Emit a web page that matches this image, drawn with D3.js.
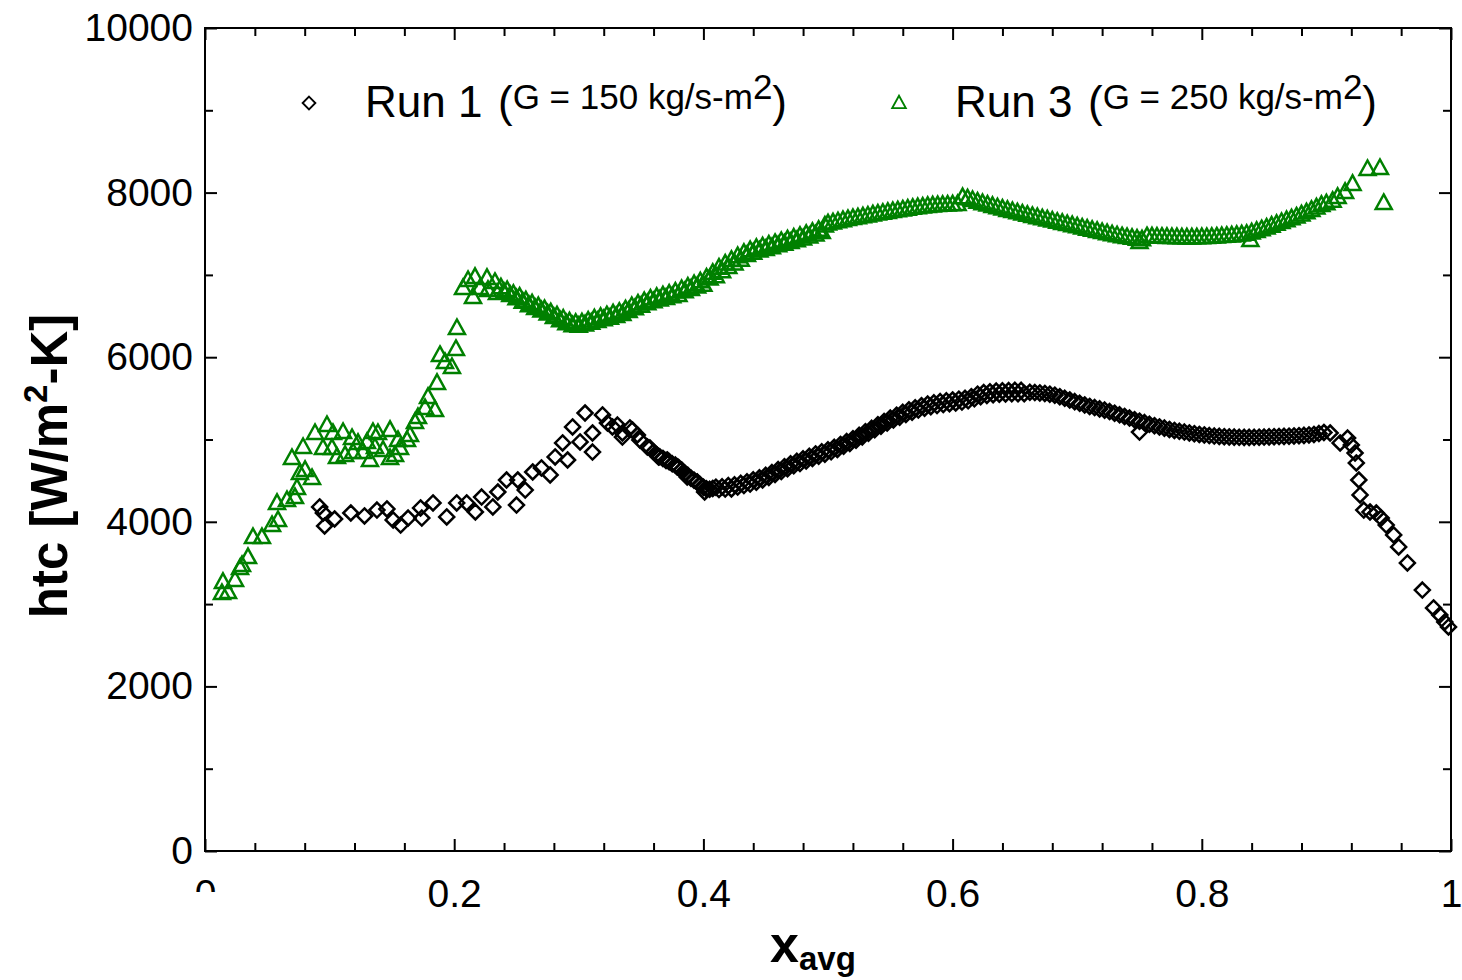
<!DOCTYPE html>
<html>
<head>
<meta charset="utf-8">
<script src="https://cdn.jsdelivr.net/npm/d3@7"></script>
<style>
	body { margin: 0; background: #fff; }
	svg { display: block; }
	text { font-family: "Liberation Sans", Arial, sans-serif; fill: #000; }
</style>
</head>
<body>
<div id="chart"></div>
<script>

// ---- axis ticks
const xMajorTicks = [0, 0.2, 0.4, 0.6, 0.8, 1];
const xMinorTicks = [0.04, 0.08, 0.12, 0.16, 0.24, 0.28, 0.32, 0.36, 0.44, 0.48, 0.52, 0.56,
	0.64, 0.68, 0.72, 0.76, 0.84, 0.88, 0.92, 0.96];
const yMajorTicks = [0, 2000, 4000, 6000, 8000, 10000];
const yMinorTicks = [1000, 3000, 5000, 7000, 9000];

// ---- Run 1 (G = 150 kg/s-m2), black diamonds
const run1SparseX = [
	0.092,0.095,0.096,0.104,0.117,0.128,0.138,0.146,0.151,0.157,
	0.163,0.173,0.174,0.183,0.194,0.202,0.210,0.217,0.222,0.231,
	0.235,0.242,0.250,0.251,0.257,0.263,0.270,0.277,0.281,0.287,
	0.291,0.295,0.301,0.305,0.311,0.311,0.319,0.323,0.327,0.331,
	0.335,0.335,0.341,0.343,0.347,0.349,0.355,0.357,0.364,0.371,
	0.379,0.387,0.395,0.401];
const run1SparseY = [
	4180,4107,3949,4034,4107,4071,4143,4156,4022,3961,
	4046,4168,4046,4229,4059,4229,4229,4119,4301,4180,
	4362,4508,4204,4508,4386,4605,4654,4569,4788,4958,
	4751,5152,4970,5322,4848,5079,5298,5201,5152,5176,
	5030,5079,5140,5116,5055,4994,4909,4897,4788,4751,
	4666,4545,4484,4362];

const run1BandX = [
	0.3600,0.3625,0.3650,0.3675,0.3700,0.3725,0.3750,0.3775,0.3800,0.3825,
	0.3850,0.3875,0.3900,0.3925,0.3950,0.3975,0.4000,0.4025,0.4050,0.4075,
	0.4100,0.4125,0.4150,0.4175,0.4200,0.4225,0.4250,0.4275,0.4300,0.4325,
	0.4350,0.4375,0.4400,0.4425,0.4450,0.4475,0.4500,0.4525,0.4550,0.4575,
	0.4600,0.4625,0.4650,0.4675,0.4700,0.4725,0.4750,0.4775,0.4800,0.4825,
	0.4850,0.4875,0.4900,0.4925,0.4950,0.4975,0.5000,0.5025,0.5050,0.5075,
	0.5100,0.5125,0.5150,0.5175,0.5200,0.5225,0.5250,0.5275,0.5300,0.5325,
	0.5350,0.5375,0.5400,0.5425,0.5450,0.5475,0.5500,0.5525,0.5550,0.5575,
	0.5600,0.5625,0.5650,0.5675,0.5700,0.5725,0.5750,0.5775,0.5800,0.5825,
	0.5850,0.5875,0.5900,0.5925,0.5950,0.5975,0.6000,0.6025,0.6050,0.6075,
	0.6100,0.6125,0.6150,0.6175,0.6200,0.6225,0.6250,0.6275,0.6300,0.6325,
	0.6350,0.6375,0.6400,0.6425,0.6450,0.6475,0.6500,0.6525,0.6550,0.6575,
	0.662,0.666,0.670,0.674,0.678,0.682,0.686,0.690,0.694,0.698,
	0.702,0.706,0.710,0.714,0.718,0.722,0.726,0.730,0.734,0.738,
	0.742,0.746,0.750,0.754,0.758,0.762,0.766,0.770,0.774,0.778,
	0.782,0.786,0.790,0.794,0.798,0.802,0.806,0.810,0.814,0.818,
	0.822,0.826,0.830,0.834,0.838,0.842,0.846,0.850,0.854,0.858,
	0.862,0.866,0.870,0.874,0.878,0.882,0.886,0.890,0.894,0.898];
const run1BandY = [
	4850,4815,4790,4770,4745,4730,4705,4690,4660,4630,
	4590,4565,4530,4505,4480,4450,4420,4400,4395,4405,
	4420,4392,4425,4398,4440,4400,4450,4422,4468,4440,
	4485,4458,4510,4482,4535,4508,4565,4540,4598,4575,
	4635,4610,4670,4645,4705,4680,4735,4708,4765,4740,
	4795,4770,4825,4798,4850,4822,4875,4850,4905,4880,
	4940,4918,4975,4952,5010,4990,5050,5032,5095,5075,
	5135,5118,5180,5160,5220,5202,5260,5238,5295,5272,
	5330,5305,5360,5332,5385,5358,5410,5380,5430,5398,
	5445,5412,5460,5425,5470,5435,5480,5445,5490,5455,
	5500,5470,5520,5495,5550,5520,5570,5536,5580,5544,
	5588,5550,5592,5554,5595,5556,5597,5557,5597,5556,
	5574,5570,5566,5560,5550,5538,5520,5500,5480,5460,
	5440,5420,5402,5388,5372,5357,5340,5320,5300,5280,
	5260,5240,5222,5205,5185,5168,5152,5138,5122,5110,
	5100,5090,5080,5070,5062,5055,5048,5042,5038,5034,
	5031,5029,5027,5026,5026,5027,5028,5030,5032,5034,
	5036,5038,5040,5043,5046,5050,5055,5062,5072,5085];

const run1TailX = [0.903,0.911,0.917,0.920,0.923,0.924,0.926,0.927,0.930,0.935,
	0.940,0.944,0.948,0.954,0.958,0.965,0.977,0.986,0.991,0.995,0.998,0.750];
const run1TailY = [5079,4958,5018,4933,4836,4715,4508,4326,4143,4119,
	4107,4046,3961,3840,3694,3500,3171,2953,2868,2783,2722,5091];

// ---- Run 3 (G = 250 kg/s-m2), green triangles
const run3SparseX = [
	0.0136,0.0144,0.0185,0.0241,0.0281,0.0297,0.0345,0.0385,0.0457,0.0538,
	0.0586,0.0578,0.0658,0.0722,0.0738,0.0762,0.0803,0.0859,0.0698,0.0787,
	0.0883,0.0979,0.0947,0.1027,0.1019,0.1059,0.1108,0.1124,0.1180,0.1188,
	0.1228,0.1268,0.1300,0.1324,0.1348,0.1364,0.1388,0.1429,0.1485,0.1485,
	0.1525,0.1549,0.1565,0.1621,0.1645,0.1685,0.1709,0.1766,0.1790,0.1846,
	0.1862,0.1886,0.1926,0.1982,0.2014,0.2022,0.2071,0.2111,0.2151,0.2167,
	0.2207,0.2263,0.2271,0.2327,0.2343];
const run3SparseY = [
	3135,3269,3147,3293,3439,3475,3572,3815,3815,3961,
	4022,4229,4265,4301,4411,4593,4630,4532,4775,4909,
	5079,5176,4897,5079,4897,4788,5091,4812,5018,4848,
	4958,4848,4970,4751,5091,4909,5079,4873,5116,4775,
	4812,4994,4897,4994,5055,5213,5273,5383,5517,5359,
	5687,6027,5942,5881,6100,6355,6841,6938,6732,6975,
	6841,6963,6817,6914,6780];

const run3BandX = [
	0.2375,0.2400,0.2425,0.2450,0.2475,0.2500,0.2525,0.2550,0.2575,0.2600,
	0.2625,0.2650,0.2675,0.2700,0.2725,0.2750,0.2775,0.2800,0.2825,0.2850,
	0.2875,0.2900,0.2925,0.2950,0.2975,0.3000,0.3025,0.3050,0.3075,0.3100,
	0.3125,0.3150,0.3175,0.3200,0.3225,0.3250,0.3275,0.3300,0.3325,0.3350,
	0.3375,0.3400,0.3425,0.3450,0.3475,0.3500,0.3525,0.3550,0.3575,0.3600,
	0.3625,0.3650,0.3675,0.3700,0.3725,0.3750,0.3775,0.3800,0.3825,0.3850,
	0.3875,0.3900,0.3925,0.3950,0.3975,0.4000,0.4025,0.4050,0.4075,0.4100,
	0.4125,0.4150,0.4175,0.4200,0.4225,0.4250,0.4275,0.4300,0.4325,0.4350,
	0.4375,0.4400,0.4425,0.4450,0.4475,0.4500,0.4525,0.4550,0.4575,0.4600,
	0.4625,0.4650,0.4675,0.4700,0.4725,0.4750,0.4775,0.4800,0.4825,0.4850,
	0.4875,0.4900,0.4925,0.4950,0.4975,
	0.500,0.504,0.508,0.512,0.516,0.520,0.524,0.528,0.532,0.536,
	0.540,0.544,0.548,0.552,0.556,0.560,0.564,0.568,0.572,0.576,
	0.580,0.584,0.588,0.592,0.596,0.600,0.604,0.608,0.612,0.616,
	0.620,0.624,0.628,0.632,0.636,0.640,0.644,0.648,0.652,0.656,
	0.660,0.664,0.668,0.672,0.676,0.680,0.684,0.688,0.692,0.696,
	0.700,0.704,0.708,0.712,0.716,0.720,0.724,0.728,0.732,0.736,
	0.740,0.744,0.748,0.752,0.756,0.760,0.764,0.768,0.772,0.776,
	0.780,0.784,0.788,0.792,0.796,0.800,0.804,0.808,0.812,0.816,
	0.820,0.824,0.828,0.832,0.836,0.840,0.844,0.848,0.852,0.856,
	0.860,0.864,0.868,0.872,0.876,0.880,0.884,0.888,0.892,0.896];
const run3BandY = [
	6850,6790,6815,6755,6770,6715,6735,6675,6690,6632,
	6655,6598,6620,6568,6585,6530,6545,6488,6508,6448,
	6470,6412,6435,6388,6418,6382,6423,6398,6445,6420,
	6472,6440,6490,6462,6510,6478,6532,6500,6552,6525,
	6582,6560,6622,6595,6652,6625,6682,6655,6712,6680,
	6732,6700,6752,6720,6772,6740,6797,6755,6827,6800,
	6857,6830,6887,6860,6922,6880,6968,6955,7025,6985,
	7088,7045,7138,7095,7182,7140,7228,7185,7268,7242,
	7300,7270,7328,7295,7348,7315,7368,7335,7388,7360,
	7412,7380,7432,7400,7452,7420,7475,7442,7498,7468,
	7522,7490,7548,7520,7600,
	7625,7638,7652,7665,7678,7690,7700,7712,7722,7735,
	7745,7755,7765,7775,7785,7795,7805,7815,7823,7830,
	7838,7844,7848,7852,7855,7858,7860,7945,7930,7910,
	7890,7872,7855,7838,7822,7806,7790,7775,7760,7745,
	7730,7716,7702,7688,7674,7660,7646,7632,7618,7604,
	7590,7576,7562,7548,7534,7520,7507,7494,7482,7470,
	7460,7450,7440,7432,7470,7468,7466,7464,7462,7460,
	7458,7456,7455,7455,7456,7458,7460,7463,7467,7472,
	7476,7480,7486,7492,7500,7516,7534,7555,7575,7598,
	7620,7643,7665,7688,7710,7735,7760,7790,7820,7850];

const run3TailX = [0.900,0.905,0.909,0.915,0.921,0.933,0.943,0.946,0.750,0.839];
const run3TailY = [7870,7900,7947,8008,8105,8287,8299,7874,7400,7424];

// ---- layout
const width = 1462, height = 980;
const margin = {top: 28, right: 11, bottom: 129, left: 205};
const w = width - margin.left - margin.right;
const h = height - margin.top - margin.bottom;

const svg = d3.select("#chart").append("svg")
	.attr("width", width)
	.attr("height", height);

const g = svg.append("g")
	.attr("transform", "translate(" + margin.left + "," + margin.top + ")");

const x = d3.scaleLinear().domain([0, 1]).range([0, w]);
const y = d3.scaleLinear().domain([0, 10000]).range([h, 0]);

function styleAxis(sel, fontSize) {
	sel.select(".domain").remove();
	sel.selectAll(".tick line").attr("stroke", "#000").attr("stroke-width", 2);
	sel.selectAll(".tick text").attr("font-size", fontSize).attr("fill", "#000")
		.attr("font-family", '"Liberation Sans", Arial, sans-serif');
}

// minor ticks, all four sides, pointing inward
g.append("g").attr("transform", "translate(0," + h + ")")
	.call(d3.axisBottom(x).tickValues(xMinorTicks).tickSize(-8).tickFormat(""))
	.call(styleAxis, 0);
g.append("g")
	.call(d3.axisTop(x).tickValues(xMinorTicks).tickSize(-8).tickFormat(""))
	.call(styleAxis, 0);
g.append("g")
	.call(d3.axisLeft(y).tickValues(yMinorTicks).tickSize(-8).tickFormat(""))
	.call(styleAxis, 0);
g.append("g").attr("transform", "translate(" + w + ",0)")
	.call(d3.axisRight(y).tickValues(yMinorTicks).tickSize(-8).tickFormat(""))
	.call(styleAxis, 0);

// major ticks
const xAxisG = g.append("g").attr("transform", "translate(0," + h + ")")
	.call(d3.axisBottom(x).tickValues(xMajorTicks).tickSize(-12).tickFormat(d3.format("~g")))
	.call(styleAxis, 39);
xAxisG.selectAll(".tick text").attr("y", 56).attr("dy", 0);

// the "0" under the origin is cut off in the original
svg.append("defs").append("clipPath").attr("id", "zeroClip")
	.append("rect").attr("x", -40).attr("y", 0).attr("width", 80).attr("height", 41);
xAxisG.selectAll(".tick text").filter(d => d === 0).attr("clip-path", "url(#zeroClip)");

g.append("g")
	.call(d3.axisTop(x).tickValues(xMajorTicks).tickSize(-12).tickFormat(""))
	.call(styleAxis, 0);

g.append("g")
	.call(d3.axisLeft(y).tickValues(yMajorTicks).tickSize(-12).tickPadding(12).tickFormat(d3.format("d")))
	.call(styleAxis, 39);

g.append("g").attr("transform", "translate(" + w + ",0)")
	.call(d3.axisRight(y).tickValues(yMajorTicks).tickSize(-12).tickFormat(""))
	.call(styleAxis, 0);

// frame
g.append("rect")
	.attr("width", w).attr("height", h)
	.attr("fill", "none").attr("stroke", "#000").attr("stroke-width", 2);

// markers
const diamond = "M0,-7.5L7.5,0L0,7.5L-7.5,0Z";
const triangle = "M0,-8.5L8,6L-8,6Z";
const green = "#008000";

function toPoints(xs, ys) {
	return xs.map((d, i) => ({x: d, y: ys[i]}));
}

const run1 = toPoints(run1SparseX, run1SparseY)
	.concat(toPoints(run1BandX, run1BandY))
	.concat(toPoints(run1TailX, run1TailY));
const run3 = toPoints(run3SparseX, run3SparseY)
	.concat(toPoints(run3BandX, run3BandY))
	.concat(toPoints(run3TailX, run3TailY));

g.append("g").selectAll("path")
	.data(run1)
	.enter().append("path")
	.attr("d", diamond)
	.attr("transform", d => "translate(" + x(d.x) + "," + y(d.y) + ")")
	.attr("fill", "none")
	.attr("stroke", "#000")
	.attr("stroke-width", 2.5);

g.append("g").selectAll("path")
	.data(run3)
	.enter().append("path")
	.attr("d", triangle)
	.attr("transform", d => "translate(" + x(d.x) + "," + y(d.y) + ")")
	.attr("fill", "none")
	.attr("stroke", green)
	.attr("stroke-width", 2.5);

// legend
const legendItems = [
	{shape: diamond, color: "#000", mx: 309, tx: 365, sx: 498, run: "Run 1", g: "G = 150 kg/s-m"},
	{shape: triangle, color: green, mx: 899, tx: 955, sx: 1088, run: "Run 3", g: "G = 250 kg/s-m"}
];

legendItems.forEach(function(item) {
	svg.append("path")
		.attr("d", item.shape)
		.attr("transform", "translate(" + item.mx + ",103) scale(0.85)")
		.attr("fill", "none")
		.attr("stroke", item.color)
		.attr("stroke-width", 2.2);

	svg.append("text")
		.attr("x", item.tx).attr("y", 117)
		.attr("font-size", 44)
		.text(item.run);

	let t = svg.append("text")
		.attr("x", item.sx).attr("y", 117)
		.attr("font-size", 44);
	t.append("tspan").text("(");
	t.append("tspan").attr("font-size", 35).attr("dy", -8).text(item.g);
	t.append("tspan").attr("font-size", 35).attr("dy", -10).text("2");
	t.append("tspan").attr("dy", 18).text(")");
});

// axis titles
let yTitle = svg.append("text")
	.attr("transform", "translate(67,466) rotate(-90)")
	.attr("text-anchor", "middle")
	.attr("font-size", 51)
	.attr("font-weight", "bold");
yTitle.append("tspan").text("htc [W/m");
yTitle.append("tspan").attr("font-size", 33).attr("dy", -20).text("2");
yTitle.append("tspan").attr("dy", 20).text("-K]");

let xTitle = svg.append("text")
	.attr("x", 770).attr("y", 962)
	.attr("font-size", 52)
	.attr("font-weight", "bold");
xTitle.append("tspan").text("x");
xTitle.append("tspan").attr("font-size", 33).attr("dy", 8).text("avg");

</script>
</body>
</html>
